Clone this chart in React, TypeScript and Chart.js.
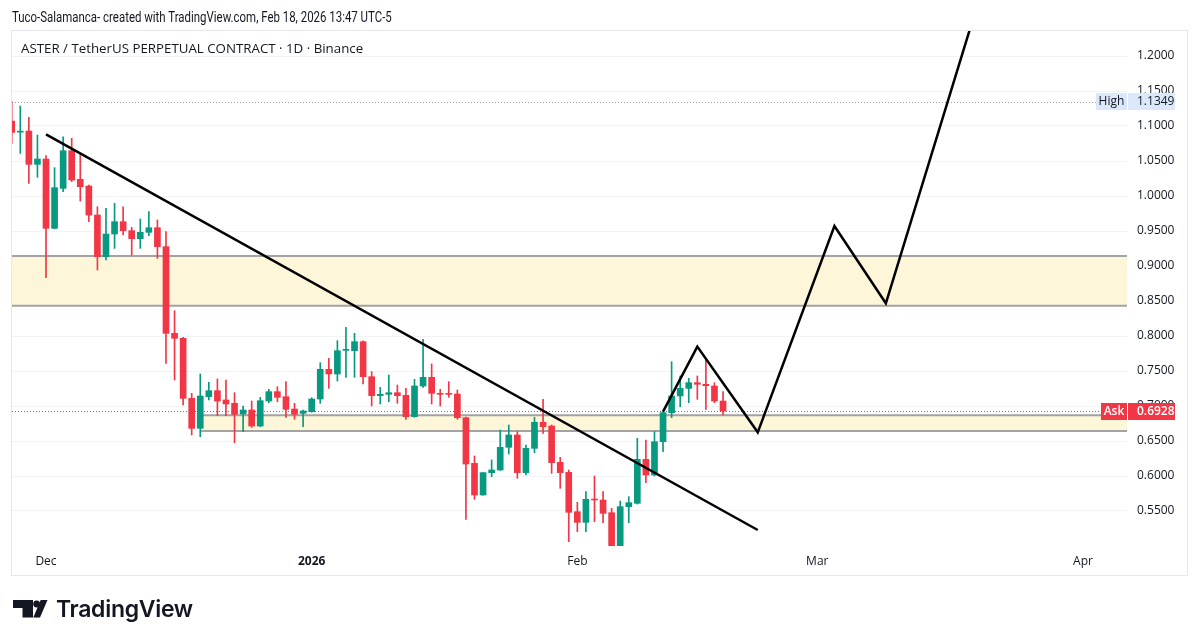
import React, { useEffect, useRef } from "react";
import { Chart, registerables } from "chart.js";

Chart.register(...registerables);

// Day index is counted from Dec 1, 2025 (0). First candle: Nov 27, 2025.
const firstDay = -4;
const opens = [
  1.1071, 1.0912, 1.0928, 1.0452, 1.0528, 0.9538, 1.0109, 1.0647, 1.0238, 1.0143,
  0.9728, 0.9133, 0.9457, 0.9633, 0.9505, 0.9390, 0.9481, 0.9547, 0.9276, 0.8038,
  0.7967, 0.7109, 0.6681, 0.7133, 0.7219, 0.7086, 0.7038, 0.6886, 0.6943, 0.6714,
  0.7071, 0.7205, 0.7133, 0.6957, 0.6895, 0.6919, 0.7100, 0.7524, 0.7457, 0.7795,
  0.7790, 0.7919, 0.7419, 0.7148, 0.7167, 0.7190, 0.7152, 0.6848, 0.7286, 0.7410,
  0.7181, 0.7181, 0.7171, 0.6833, 0.6181, 0.5729, 0.6048, 0.6086, 0.6410, 0.6586,
  0.6048, 0.6395, 0.6767, 0.6714, 0.6195, 0.6052, 0.5490, 0.5338, 0.5667, 0.5657,
  0.5476, 0.4990, 0.5562, 0.5610, 0.6238, 0.6014, 0.6490, 0.6905, 0.7143, 0.7252,
  0.7333, 0.7310, 0.7286, 0.7071,
];
const highs = [
  1.1349, 1.1285, 1.1124, 1.0871, 1.0576, 1.0405, 1.0847, 1.0824, 1.0609, 1.0157,
  0.9847, 0.9824, 0.9895, 0.9847, 0.9552, 0.9671, 0.9776, 0.9657, 0.9490, 0.8362,
  0.7981, 0.7181, 0.7457, 0.7338, 0.7386, 0.7371, 0.7190, 0.7000, 0.7071, 0.7124,
  0.7238, 0.7276, 0.7348, 0.7038, 0.6943, 0.7119, 0.7619, 0.7681, 0.7933, 0.8124,
  0.8038, 0.7930, 0.7491, 0.7267, 0.7443, 0.7300, 0.7252, 0.7381, 0.7952, 0.7600,
  0.7238, 0.7348, 0.7229, 0.6840, 0.6286, 0.6050, 0.6229, 0.6657, 0.6729, 0.6633,
  0.6443, 0.6838, 0.7095, 0.6729, 0.6267, 0.6086, 0.5624, 0.5776, 0.6000, 0.5776,
  0.5538, 0.5643, 0.5705, 0.6538, 0.6514, 0.6633, 0.6919, 0.7633, 0.7429, 0.7395,
  0.7429, 0.7657, 0.7333, 0.7205,
];
const lows = [
  1.0752, 1.0609, 1.0181, 1.0266, 0.8833, 0.9530, 1.0062, 1.0205, 0.9928, 0.9633,
  0.8943, 0.9086, 0.9252, 0.9443, 0.9157, 0.9252, 0.9433, 0.9109, 0.7609, 0.7371,
  0.7014, 0.6586, 0.6562, 0.7086, 0.6862, 0.6862, 0.6476, 0.6633, 0.6695, 0.6705,
  0.7048, 0.7062, 0.6838, 0.6810, 0.6705, 0.6910, 0.7038, 0.7252, 0.7357, 0.7410,
  0.7410, 0.7314, 0.7000, 0.7029, 0.7062, 0.7038, 0.6810, 0.6840, 0.7267, 0.7029,
  0.7000, 0.7124, 0.6810, 0.5381, 0.5667, 0.5725, 0.5990, 0.6080, 0.6314, 0.5967,
  0.6014, 0.6333, 0.6610, 0.6038, 0.5824, 0.5062, 0.5205, 0.5205, 0.5348, 0.5333,
  0.4900, 0.4950, 0.5333, 0.5600, 0.5905, 0.6000, 0.6348, 0.6833, 0.6990, 0.7048,
  0.7095, 0.6952, 0.7048, 0.6871,
];
const closes = [
  1.0909, 1.0919, 1.0452, 1.0528, 0.9538, 1.0119, 1.0647, 1.0228, 1.0133, 0.9728,
  0.9133, 0.9457, 0.9633, 0.9505, 0.9390, 0.9481, 0.9547, 0.9276, 0.8038, 0.7967,
  0.7109, 0.6681, 0.7143, 0.7219, 0.7071, 0.7029, 0.6881, 0.6943, 0.6714, 0.7076,
  0.7205, 0.7124, 0.6952, 0.6881, 0.6929, 0.7100, 0.7524, 0.7457, 0.7790, 0.7800,
  0.7919, 0.7419, 0.7148, 0.7167, 0.7190, 0.7148, 0.6848, 0.7286, 0.7410, 0.7181,
  0.7167, 0.7167, 0.6833, 0.6171, 0.5729, 0.6048, 0.6086, 0.6410, 0.6586, 0.6048,
  0.6395, 0.6767, 0.6705, 0.6191, 0.6048, 0.5481, 0.5338, 0.5667, 0.5657, 0.5467,
  0.4980, 0.5562, 0.5619, 0.6238, 0.6014, 0.6490, 0.6905, 0.7143, 0.7252, 0.7333,
  0.7310, 0.7290, 0.7071, 0.6928,
];

const xTickDays = [0, 31, 62, 90, 121];
const xTickLabels = ["Dec", "2026", "Feb", "Mar", "Apr"];
const yTickValues = [0.55, 0.6, 0.65, 0.7, 0.75, 0.8, 0.85, 0.9, 0.95, 1.0, 1.05, 1.1, 1.15, 1.2];

const trendDays = [0, 83.05];
const trendValues = [1.088, 0.5229];
const projectionDays = [72, 76, 83.05, 92, 98, 107.9];
const projectionValues = [0.6919, 0.7848, 0.6624, 0.9571, 0.8467, 1.242];

const zoneTops = [0.9143, 0.6867];
const zoneBottoms = [0.8433, 0.6643];
const zoneStartDays = [-10, 18];

const highValue = 1.1349;
const askValue = 0.6928;

const UP = "#089981";
const DOWN = "#f23645";
const FONT = "'Open Sans', 'Noto Sans', sans-serif";

const overlayPlugin = {
  id: "tvOverlay",
  beforeDraw(chart: any) {
    const ctx = chart.ctx;
    ctx.save();
    ctx.strokeStyle = "#e6e8ee";
    ctx.lineWidth = 1;
    ctx.strokeRect(11.5, 30.5, 1176, 545);
    ctx.restore();
  },
  beforeDatasetsDraw(chart: any) {
    const { ctx, chartArea, scales } = chart;
    const xs = scales.x;
    const ys = scales.y;
    ctx.save();
    ctx.beginPath();
    ctx.rect(chartArea.left, chartArea.top, chartArea.right - chartArea.left, chartArea.bottom - chartArea.top);
    ctx.clip();
    for (let i = 0; i < zoneTops.length; i++) {
      const x0 = Math.max(chartArea.left, xs.getPixelForValue(zoneStartDays[i]));
      const x1 = chartArea.right;
      const yT = ys.getPixelForValue(zoneTops[i]);
      const yB = ys.getPixelForValue(zoneBottoms[i]);
      ctx.fillStyle = "#fdf6d8";
      ctx.fillRect(x0, yT, x1 - x0, yB - yT);
      ctx.strokeStyle = "#a3a3a3";
      ctx.lineWidth = 2;
      ctx.beginPath();
      ctx.moveTo(x0, yT);
      ctx.lineTo(x1, yT);
      ctx.moveTo(x0, yB);
      ctx.lineTo(x1, yB);
      ctx.stroke();
    }
    // High dotted line
    ctx.setLineDash([1, 2]);
    ctx.lineWidth = 1;
    ctx.strokeStyle = "#a0a4ad";
    let y = Math.round(ys.getPixelForValue(highValue)) + 0.5;
    ctx.beginPath();
    ctx.moveTo(chartArea.left, y);
    ctx.lineTo(chartArea.right, y);
    ctx.stroke();
    // Ask dotted line
    ctx.strokeStyle = "#a0588a";
    y = Math.round(ys.getPixelForValue(askValue)) + 0.5;
    ctx.beginPath();
    ctx.moveTo(chartArea.left, y);
    ctx.lineTo(chartArea.right, y);
    ctx.stroke();
    ctx.restore();
  },
  afterDraw(chart: any) {
    const { ctx, chartArea, scales } = chart;
    const ys = scales.y;
    const r = chartArea.right;
    const drawTag = (value: number, name: string, nameW: number, bg: string, fg: string, weight: string) => {
      const yc = ys.getPixelForValue(value);
      const h = 17;
      const top = Math.round(yc - h / 2);
      ctx.save();
      ctx.fillStyle = bg;
      ctx.fillRect(r - nameW, top, nameW, h);
      ctx.fillRect(r + 1, top, 47, h);
      ctx.fillStyle = fg;
      ctx.font = `${weight} 12px ${FONT}`;
      ctx.textBaseline = "middle";
      ctx.textAlign = "center";
      ctx.fillText(name, r - nameW / 2, top + h / 2 + 0.5);
      ctx.textAlign = "left";
      ctx.fillText(value.toFixed(4), r + 10, top + h / 2 + 0.5);
      ctx.restore();
    };
    drawTag(highValue, "High", 31, "#dbe8f9", "#131722", "normal");
    drawTag(askValue, "Ask", 26, DOWN, "#ffffff", "600");
  },
};

export default function App() {
  const canvasRef = useRef<HTMLCanvasElement | null>(null);
  const headerRef = useRef<HTMLDivElement | null>(null);

  useEffect(() => {
    const header = headerRef.current;
    if (header) {
      const w = header.scrollWidth;
      if (w > 0) header.style.transform = `scaleX(${380 / w})`;
    }
    const canvas = canvasRef.current;
    if (!canvas) return;
    const days = opens.map((_, i) => firstDay + i);
    const colors = opens.map((o, i) => (closes[i] >= o ? UP : DOWN));
    const wickData = days.map((d, i) => ({ x: d, y: [lows[i], highs[i]] }));
    const bodyData = days.map((d, i) => ({
      x: d,
      y: [Math.min(opens[i], closes[i]), Math.max(opens[i], closes[i])],
    }));

    const chart = new Chart(canvas, {
      type: "bar",
      data: {
        datasets: [
          {
            type: "line",
            data: trendDays.map((d, i) => ({ x: d, y: trendValues[i] })),
            borderColor: "#000000",
            borderWidth: 2.5,
            pointRadius: 0,
            tension: 0,
            order: 0,
          } as any,
          {
            type: "line",
            data: projectionDays.map((d, i) => ({ x: d, y: projectionValues[i] })),
            borderColor: "#000000",
            borderWidth: 2.5,
            borderJoinStyle: "miter",
            pointRadius: 0,
            tension: 0,
            order: 0,
          } as any,
          {
            type: "bar",
            data: bodyData,
            backgroundColor: colors,
            borderWidth: 0,
            barThickness: 6,
            minBarLength: 1,
            grouped: false,
            order: 1,
          } as any,
          {
            type: "bar",
            data: wickData,
            backgroundColor: colors,
            borderWidth: 0,
            barThickness: 1,
            grouped: false,
            order: 2,
          } as any,
        ],
      },
      options: {
        animation: false,
        responsive: false,
        devicePixelRatio: 1,
        layout: { padding: { left: 12, right: 12, top: 31, bottom: 69 } },
        plugins: { legend: { display: false }, tooltip: { enabled: false } },
        scales: {
          x: {
            type: "linear",
            offset: false,
            min: (12 - 46) / 8.57,
            max: (1127 - 46) / 8.57,
            grid: { display: false, drawTicks: false },
            border: { display: false },
            afterBuildTicks: (scale: any) => {
              scale.ticks = xTickDays.map((v) => ({ value: v }));
            },
            afterFit: (scale: any) => {
              scale.height = 29;
            },
            ticks: {
              autoSkip: false,
              maxRotation: 0,
              padding: 8,
              color: "#131722",
              font: (ctx: any) => ({
                family: FONT,
                size: 12,
                weight: ctx.tick && ctx.tick.value === 31 ? "bold" : "normal",
              }),
              callback: (v: any) => {
                const idx = xTickDays.indexOf(Number(v));
                return idx >= 0 ? xTickLabels[idx] : "";
              },
            },
          },
          y: {
            type: "linear",
            position: "right",
            min: 0.5,
            max: 1.2 + 25 / 700,
            grid: { color: "#f2f3f7", drawTicks: false, lineWidth: 1 },
            border: { display: false },
            afterBuildTicks: (scale: any) => {
              scale.ticks = yTickValues.map((v) => ({ value: v }));
            },
            afterFit: (scale: any) => {
              scale.width = 61;
            },
            ticks: {
              padding: 10,
              color: "#131722",
              font: { family: FONT, size: 12 },
              callback: (v: any) => Number(v).toFixed(4),
            },
          },
        },
      },
      plugins: [overlayPlugin],
    } as any);

    return () => chart.destroy();
  }, []);

  return (
    <div
      style={{
        position: "fixed",
        left: 0,
        top: 0,
        width: 1200,
        height: 644,
        background: "#ffffff",
        overflow: "hidden",
        fontFamily: FONT,
        color: "#131722",
      }}
    >
      <canvas
        ref={canvasRef}
        width={1200}
        height={644}
        style={{ position: "absolute", left: 0, top: 0, width: 1200, height: 644 }}
      />
      <div
        ref={headerRef}
        style={{
          position: "absolute",
          left: 12,
          top: 8,
          fontFamily: "Roboto, 'Open Sans', sans-serif",
          fontSize: 14,
          lineHeight: "18px",
          whiteSpace: "nowrap",
          color: "#131722",
          transformOrigin: "0 0",
          display: "inline-block",
        }}
      >
        Tuco-Salamanca- created with TradingView.com, Feb 18, 2026 13:47 UTC-5
      </div>
      <div
        style={{
          position: "absolute",
          left: 21,
          top: 40,
          fontSize: 13.3,
          lineHeight: "17px",
          whiteSpace: "nowrap",
          color: "#131722",
        }}
      >
        ASTER / TetherUS PERPETUAL CONTRACT · 1D · Binance
      </div>
      <svg
        width={36}
        height={19}
        viewBox="0 0 36 19"
        style={{ position: "absolute", left: 13, top: 600 }}
      >
        <path d="M0 0H20V17.5H9.5V8H0Z" fill="#131722" />
        <circle cx={23.6} cy={4} r={3.4} fill="#131722" />
        <path d="M27.7 0H34.5L27 17.5H20.3Z" fill="#131722" />
      </svg>
      <div
        style={{
          position: "absolute",
          left: 56,
          top: 595,
          fontFamily: "Inter, 'Open Sans', sans-serif",
          fontWeight: 600,
          fontSize: 23,
          lineHeight: "28px",
          letterSpacing: "-0.3px",
          whiteSpace: "nowrap",
          color: "#131722",
        }}
      >
        TradingView
      </div>
    </div>
  );
}
